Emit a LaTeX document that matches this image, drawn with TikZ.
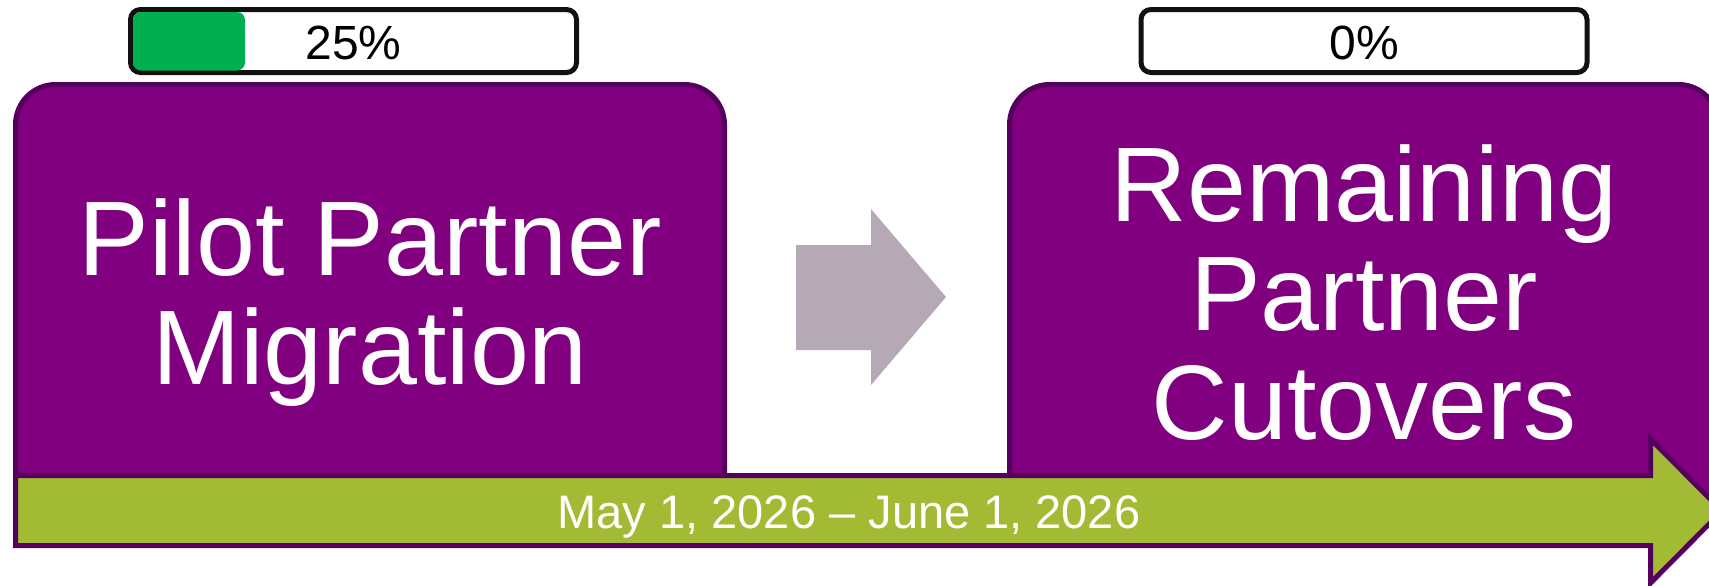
\documentclass[tikz,border=0pt]{standalone}
\usepackage{fontspec}
\setmainfont{Liberation Sans}
\definecolor{pfill}{RGB}{128,0,128}
\definecolor{pline}{RGB}{85,0,95}
\definecolor{gfill}{RGB}{163,187,52}
\definecolor{pgreen}{RGB}{0,176,80}
\definecolor{garrow}{RGB}{180,169,181}
\definecolor{barline}{RGB}{17,17,17}
\tikzset{
  phasebox/.style={draw=pline, fill=pfill, line width=2.5pt, rounded corners=20pt,
    minimum width=354.5pt, minimum height=215.25pt, inner sep=0pt},
  bigtext/.style={text=white, font=\fontsize{53}{60}\selectfont, anchor=base, inner sep=0pt},
  datetext/.style={text=white, font=\fontsize{23.5}{28}\selectfont, anchor=base, inner sep=0pt},
  barbox/.style={draw=barline, fill=white, line width=2.5pt, rounded corners=5pt,
    minimum width=223pt, minimum height=31.5pt, inner sep=0pt},
  bartext/.style={text=black, font=\fontsize{24}{28}\selectfont, anchor=base, inner sep=0pt},
  timeline/.style={draw=pline, fill=gfill, line width=2.5pt, line join=miter},
  steparrow/.style={fill=garrow}
}
\begin{document}
\begin{tikzpicture}[x=0.5pt,y=-0.5pt]
\useasboundingbox (0,0) rectangle (1709,585);
\clip (0,0) rectangle (1709,585);
% phase boxes
\node[phasebox] (pilot) at (370,299.75) {};
\node[phasebox] (remain) at (1364,299.75) {};
% timeline arrow
\coordinate (t1) at (15.5,475.5);
\coordinate (t2) at (1650.5,475.5);
\coordinate (t3) at (1650.5,439);
\coordinate (t4) at (1722,511);
\coordinate (t5) at (1650.5,583);
\coordinate (t6) at (1650.5,545.5);
\coordinate (t7) at (15.5,545.5);
\draw[timeline] (t1) -- (t2) -- (t3) -- (t4) -- (t5) -- (t6) -- (t7) -- cycle;
\node[datetext] (dates) at (849,528) {May 1, 2026 – June 1, 2026};
% step arrow
\coordinate (a1) at (796,245);
\coordinate (a2) at (871,245);
\coordinate (a3) at (871,209);
\coordinate (a4) at (946,297);
\coordinate (a5) at (871,385);
\coordinate (a6) at (871,350);
\coordinate (a7) at (796,350);
\fill[steparrow] (a1) -- (a2) -- (a3) -- (a4) -- (a5) -- (a6) -- (a7) -- cycle;
% progress bars
\node[barbox] (bar1) at (353.5,41) {};
\fill[pgreen, rounded corners=4pt] (133,12) rectangle (245,70.5);
\node[bartext] (pct1) at (353.5,59) {25\%};
\node[barbox] (bar2) at (1364,41) {};
\node[bartext] (pct2) at (1364,59) {0\%};
% texts
\node[bigtext] (pilotA) at (370,275) {Pilot Partner};
\node[bigtext] (pilotB) at (370,384) {Migration};
\node[bigtext] (remA) at (1364,221) {Remaining};
\node[bigtext] (remB) at (1364,330) {Partner};
\node[bigtext] (remC) at (1364,439) {Cutovers};
\end{tikzpicture}
\end{document}
